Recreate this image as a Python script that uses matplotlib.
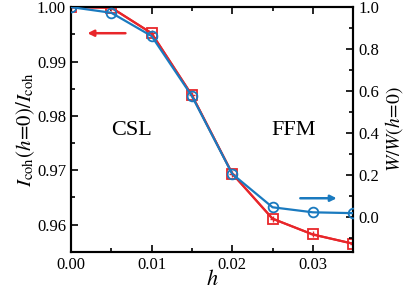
import numpy as np
import matplotlib
matplotlib.use('agg')
import matplotlib.pyplot as plt
from matplotlib.ticker import MultipleLocator, FormatStrFormatter

plt.rcParams['font.family'] = 'Liberation Serif'
plt.rcParams['mathtext.fontset'] = 'stix'
plt.rcParams['xtick.direction'] = 'in'
plt.rcParams['ytick.direction'] = 'in'

h = [0.0, 0.005, 0.01, 0.015, 0.02, 0.025, 0.03, 0.035]
icoh = [1.0, 0.9999, 0.9952, 0.9838, 0.9694, 0.9611, 0.9582, 0.9565]
w = [1.0, 0.973, 0.862, 0.576, 0.205, 0.046, 0.022, 0.018]

red = '#e8262a'
blue = '#1a7abf'

fig = plt.figure(figsize=(4.15, 2.96), dpi=100)
ax = fig.add_axes([0.171, 0.149, 0.680, 0.827])
ax2 = ax.twinx()

ax.plot(h, icoh, '-', color=red, lw=1.6, marker='s', ms=7, mfc='none',
        mew=1.3, zorder=3)
ax.plot(h, icoh, 'none', color=red, marker='+', ms=5, mew=1.0, zorder=3)
ax2.plot(h, w, '-', color=blue, lw=1.6, marker='o', ms=7, mfc='none',
         mew=1.3, zorder=4)

ax.set_xlim(0, 0.035)
ax.set_ylim(0.955, 1.0)
ax2.set_ylim(-1/6, 1.0)

ax.xaxis.set_major_locator(MultipleLocator(0.01))
ax.xaxis.set_minor_locator(MultipleLocator(0.005))
ax.yaxis.set_major_locator(MultipleLocator(0.01))
ax.yaxis.set_minor_locator(MultipleLocator(0.005))
ax2.yaxis.set_major_locator(MultipleLocator(0.2))
ax2.yaxis.set_minor_locator(MultipleLocator(0.1))
ax.xaxis.set_major_formatter(FormatStrFormatter('%.2f'))
ax.yaxis.set_major_formatter(FormatStrFormatter('%.2f'))
ax2.yaxis.set_major_formatter(FormatStrFormatter('%.1f'))

ax.tick_params(which='both', top=True, labelsize=12, width=1.2)
ax.tick_params(which='major', length=5)
ax.tick_params(which='minor', length=3)
ax2.tick_params(which='both', labelsize=12, width=1.2)
ax2.tick_params(which='major', length=5)
ax2.tick_params(which='minor', length=3)
for a in (ax, ax2):
    for s in a.spines.values():
        s.set_linewidth(1.5)

ax.set_xlabel(r'$h$', fontsize=16, labelpad=-2)
ax.set_ylabel(r'$I_{\rm coh}(h\!=\!0)/I_{\rm coh}$', fontsize=15, labelpad=0)
ax2.set_ylabel(r'$W/W(h\!=\!0)$', fontsize=14, labelpad=3)

ax.text(0.00747, 0.9774, 'CSL', fontsize=16, ha='center', va='center')
ax.text(0.02764, 0.9774, 'FFM', fontsize=16, ha='center', va='center')

ax.annotate('', xy=(0.0017, 0.9952), xytext=(0.0071, 0.9952),
            arrowprops=dict(arrowstyle='-|>', color=red, lw=1.8,
                            mutation_scale=9))
ax2.annotate('', xy=(0.0333, 0.089), xytext=(0.0281, 0.089),
             arrowprops=dict(arrowstyle='-|>', color=blue, lw=1.8,
                             mutation_scale=9))

plt.savefig('out.png', dpi=100)
